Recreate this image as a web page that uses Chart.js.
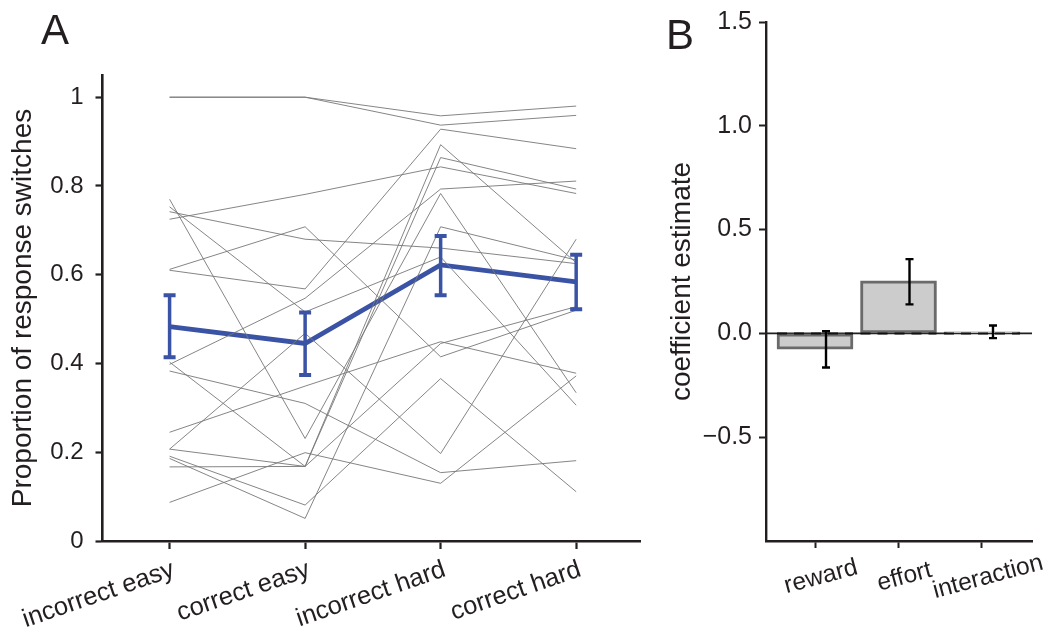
<!DOCTYPE html>
<html>
<head>
<meta charset="utf-8">
<script src="https://cdn.jsdelivr.net/npm/chart.js@4.4.1/dist/chart.umd.min.js"></script>
<style>
  html, body { margin: 0; padding: 0; background: #fff; }
  #wrap { position: relative; width: 1053px; height: 633px; overflow: hidden; background: #fff; }
  canvas { position: absolute; top: 0; }
  #cA { left: 0; }
  #cB { left: 640px; }
  .panel { position: absolute; font-family: 'Liberation Sans', Arial, sans-serif; font-size: 42px; color: #231f20; line-height: 1; }
</style>
</head>
<body>
<div id="wrap">
  <canvas id="cA" width="650" height="633"></canvas>
  <canvas id="cB" width="413" height="633"></canvas>
  <div class="panel" style="left:41px;top:9px;">A</div>
  <div class="panel" style="left:666px;top:14px;">B</div>
</div>
<script>
// Panel A: per-subject proportion of response switches in each condition
const categories = ['incorrect easy', 'correct easy', 'incorrect hard', 'correct hard'];
const incorrectEasy = [1.000, 1.000, 0.770, 0.753, 0.742, 0.725, 0.612, 0.610, 0.398, 0.403, 0.383, 0.245, 0.207, 0.207, 0.191, 0.186, 0.167, 0.087];
const correctEasy   = [1.000, 1.000, 0.231, 0.516, 0.680, 0.781, 0.708, 0.568, 0.547, 0.168, 0.310, 0.349, 0.468, 0.168, 0.081, 0.051, 0.168, 0.199];
const incorrectHard = [0.958, 0.937, 0.783, 0.640, 0.660, 0.843, 0.415, 0.928, 0.793, 0.445, 0.154, 0.449, 0.197, 0.893, 0.366, 0.708, 0.864, 0.130];
const correctHard   = [0.980, 0.959, 0.334, 0.306, 0.625, 0.783, 0.520, 0.884, 0.811, 0.528, 0.181, 0.378, 0.680, 0.627, 0.111, 0.633, 0.793, 0.372];
const groupMean = [0.483, 0.445, 0.622, 0.584];
const groupLow  = [0.414, 0.374, 0.554, 0.522];
const groupHigh = [0.554, 0.515, 0.687, 0.645];
const yTicksA = [0, 0.2, 0.4, 0.6, 0.8, 1];

// Panel B: regression coefficients with error bars
const terms = ['reward', 'effort', 'interaction'];
const coefficients = [-0.076, 0.253, 0.007];
const coefLow  = [-0.164, 0.140, -0.023];
const coefHigh = [0.010, 0.358, 0.038];
const yTicksB = [-0.5, 0, 0.5, 1, 1.5];

const FONT = "'Liberation Sans', Arial, Helvetica, sans-serif";
const INK = '#231f20';
const BLUE = '#3a53a4';
Chart.defaults.font.family = FONT;
Chart.defaults.color = INK;
Chart.defaults.animation = false;

// slanted category labels under the x axis
const slantLabels = {
  id: 'slantLabels',
  afterDraw(chart, args, o) {
    const xs = chart.scales.x, ctx = chart.ctx;
    ctx.save();
    ctx.font = o.size + 'px ' + FONT;
    ctx.fillStyle = INK;
    ctx.textAlign = o.align;
    ctx.textBaseline = 'middle';
    o.labels.forEach((t, i) => {
      ctx.save();
      ctx.translate(xs.getPixelForValue(i) + o.dx, o.y);
      ctx.rotate(-o.angle * Math.PI / 180);
      ctx.fillText(t, 0, 0);
      ctx.restore();
    });
    ctx.restore();
  }
};

// vertical error bars with flat caps (optionally nudged sideways by dx pixels)
const errorBars = {
  id: 'errorBars',
  afterDatasetsDraw(chart, args, o) {
    const xs = chart.scales.x, ys = chart.scales.y, ctx = chart.ctx;
    ctx.save();
    ctx.strokeStyle = o.color;
    ctx.lineCap = 'butt';
    o.low.forEach((lo, i) => {
      const x = xs.getPixelForValue(i) + (o.dx || 0);
      const y1 = ys.getPixelForValue(lo), y2 = ys.getPixelForValue(o.high[i]);
      ctx.lineWidth = o.width;
      ctx.beginPath();
      ctx.moveTo(x, y1); ctx.lineTo(x, y2);
      ctx.stroke();
      ctx.lineWidth = o.capWidth;
      ctx.beginPath();
      ctx.moveTo(x - o.cap, y1); ctx.lineTo(x + o.cap, y1);
      ctx.moveTo(x - o.cap, y2); ctx.lineTo(x + o.cap, y2);
      ctx.stroke();
    });
    ctx.restore();
  }
};

// zero reference line: solid across the axis, dashed over each bar
const zeroLine = {
  id: 'zeroLine',
  beforeDatasetsDraw(chart) {
    const { ctx, chartArea } = chart;
    const y = chart.scales.y.getPixelForValue(0);
    ctx.save();
    ctx.strokeStyle = INK; ctx.lineWidth = 1.6;
    ctx.beginPath(); ctx.moveTo(chartArea.left, y); ctx.lineTo(chartArea.right, y); ctx.stroke();
    ctx.restore();
  },
  afterDatasetsDraw(chart) {
    const { ctx } = chart;
    const y = chart.scales.y.getPixelForValue(0);
    ctx.save();
    ctx.strokeStyle = '#111'; ctx.lineWidth = 2;
    ctx.setLineDash([10, 7]);
    chart.getDatasetMeta(0).data.forEach(bar => {
      const half = bar.width / 2;
      ctx.beginPath(); ctx.moveTo(bar.x - half, y); ctx.lineTo(bar.x + half, y); ctx.stroke();
    });
    ctx.restore();
  }
};

function fixedTicks(values) {
  return scale => { scale.ticks = values.map(v => ({ value: v })); };
}

// ---------- panel A ----------
const subjects = incorrectEasy.map((_, s) => [incorrectEasy[s], correctEasy[s], incorrectHard[s], correctHard[s]]);
const subjectSets = subjects.map(vals => ({
  data: vals.map((v, i) => ({ x: i, y: v })),
  borderColor: 'rgba(120,120,120,0.9)',
  borderWidth: 1,
  pointRadius: 0,
  tension: 0
}));
const meanSet = {
  data: groupMean.map((v, i) => ({ x: i, y: v })),
  borderColor: BLUE,
  borderWidth: 4.8,
  pointRadius: 0,
  tension: 0
};

new Chart(document.getElementById('cA'), {
  type: 'line',
  data: { datasets: [...subjectSets, meanSet] },
  options: {
    responsive: false,
    layout: { padding: { left: 0, right: 10, top: 75, bottom: 0 } },
    plugins: {
      legend: { display: false },
      tooltip: { enabled: false },
      slantLabels: { labels: categories, size: 25.5, angle: 19, align: 'right', dx: 4, y: 569 },
      errorBars: { low: groupLow, high: groupHigh, color: BLUE, width: 3.5, capWidth: 4, cap: 6 }
    },
    scales: {
      x: {
        type: 'linear', min: -0.495, max: 3.471, offset: false,
        afterBuildTicks: fixedTicks([0, 1, 2, 3]),
        afterFit: s => { s.height = 92; },
        ticks: { display: false },
        grid: { drawOnChartArea: false, offset: false, tickLength: 8, tickWidth: 2.2, tickColor: INK },
        border: { color: INK, width: 2.6 }
      },
      y: {
        min: 0, max: 1.05,
        afterBuildTicks: fixedTicks(yTicksA),
        afterFit: s => { s.width = 102.5; },
        ticks: {
          font: { size: 24 }, color: INK, padding: 12,
          callback: v => (v === 0 || v === 1) ? String(v) : v.toFixed(1)
        },
        grid: { drawOnChartArea: false, tickLength: 7, tickWidth: 2.2, tickColor: INK },
        border: { color: INK, width: 2.6 },
        title: { display: true, text: 'Proportion of response switches', font: { size: 28 }, color: INK, padding: { top: 6, bottom: 0 } }
      }
    }
  },
  plugins: [slantLabels, errorBars]
});

// ---------- panel B ----------
new Chart(document.getElementById('cB'), {
  type: 'bar',
  data: {
    datasets: [{
      data: coefficients.map((v, i) => ({ x: i, y: v })),
      backgroundColor: '#cccccc',
      borderColor: '#6a6a6a',
      borderWidth: 3,
      borderSkipped: false,
      barThickness: 76
    }]
  },
  options: {
    responsive: false,
    layout: { padding: { left: 0, right: 21, top: 18, bottom: 0 } },
    plugins: {
      legend: { display: false },
      tooltip: { enabled: false },
      slantLabels: { labels: terms, size: 24.5, angle: 15, align: 'center', dx: 6, y: 577 },
      errorBars: { low: coefLow, high: coefHigh, color: '#000', width: 2.4, capWidth: 2.4, cap: 4, dx: 11 }
    },
    scales: {
      x: {
        type: 'linear', min: -0.587, max: 2.599, offset: false,
        afterBuildTicks: fixedTicks([0, 1, 2]),
        afterFit: s => { s.height = 92; },
        ticks: { display: false },
        grid: { drawOnChartArea: false, offset: false, tickLength: 7, tickWidth: 2, tickColor: INK },
        border: { color: INK, width: 2.4 }
      },
      y: {
        min: -1, max: 1.5,
        afterBuildTicks: fixedTicks(yTicksB),
        afterFit: s => { s.width = 126; },
        ticks: {
          font: { size: 25 }, color: INK, padding: 7,
          callback: v => (v < 0 ? '\u2212' : '') + Math.abs(v).toFixed(1)
        },
        grid: { drawOnChartArea: false, tickLength: 7, tickWidth: 2, tickColor: INK },
        border: { color: INK, width: 2.4 },
        title: { display: true, text: 'coefficient estimate', font: { size: 28 }, color: INK, padding: { top: 25, bottom: 0 } }
      }
    }
  },
  plugins: [zeroLine, errorBars, slantLabels]
});
</script>
</body>
</html>
